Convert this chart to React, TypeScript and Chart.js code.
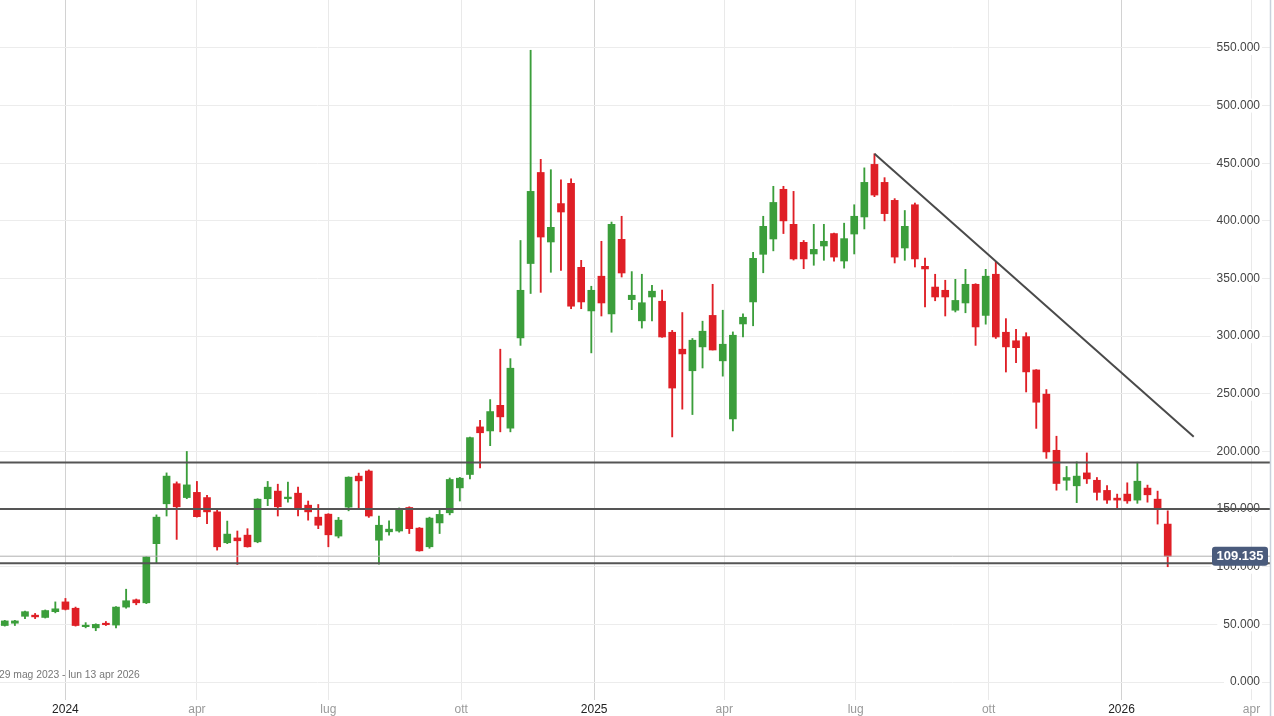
import { useEffect, useRef } from "react";
import { Chart, registerables } from "chart.js";

Chart.register(...registerables);

// Weekly candles; week index relative to Monday 1 Jan 2024 (week 0)
const FIRST_WEEK = -6;

const OPEN = [
  49, 51, 57, 58, 56, 61, 69.5, 64, 48, 47, 51, 49.4, 65, 71.3, 68.7, 120, 154.6, 172, 160, 164.5,
  160, 147.6, 120.8, 125, 127.4, 121.6, 159, 165.6, 159, 163.8, 153.4, 143, 145.6, 126.6, 151.7, 178.6, 183, 123, 130.3, 131,
  151.4, 133.5, 117.3, 138, 146.8, 168.4, 180, 221.3, 217.8, 240, 220.2, 298.5, 363, 442, 381.7, 415, 432.6, 359.7, 321.9, 352,
  319.2, 384, 331.7, 313.3, 334, 330.3, 303.4, 288.7, 270, 290.7, 318, 278.6, 228.2, 310.6, 329.7, 371, 384.3, 427.4, 397, 381.4,
  371.3, 378.2, 389, 365.2, 388.6, 403.4, 449, 433.4, 417.8, 376.5, 414, 360.6, 342.6, 339.8, 322.5, 328.8, 345, 318, 353.7, 303.4,
  296, 299.6, 270.7, 249.7, 201, 175, 170.2, 181.4, 175, 166.2, 159.5, 163, 157.8, 168.2, 158.6, 137,
];
const HIGH = [
  53.5, 53.5, 61.5, 59.5, 62.5, 69.5, 72.5, 65, 51.5, 50.5, 52.5, 65.5, 80.5, 72, 109, 145, 181.4, 173.6, 200, 174,
  162, 149.7, 139.6, 131, 133, 159, 174, 171.6, 173.4, 169, 157, 154, 146, 142.8, 178, 181.2, 184, 144, 139.8, 151,
  152, 134, 143, 149, 177, 177.5, 212.5, 227, 245, 288.7, 280.5, 383, 548, 453.4, 444.4, 435.7, 436.5, 365.8, 343.3, 382.3,
  399, 404, 356, 353.7, 344, 340, 305, 320.5, 298, 313, 345, 322.5, 303.7, 319.3, 372.7, 404, 430, 430, 425.6, 383,
  397, 397, 389.5, 398, 414, 446, 458.2, 437.5, 419.3, 409, 415.5, 367.8, 353.7, 348.5, 349.3, 358, 345.5, 358, 364.3, 315.2,
  306, 303, 271, 253.7, 213.2, 187, 191, 198.7, 177.4, 170.5, 163, 172.8, 190.7, 170.8, 165.6, 148.5,
];
const LOW = [
  48.5, 49, 55, 55, 55.5, 60, 62.5, 48.5, 47, 44.5, 49, 47, 64, 67, 68, 103, 144, 123.7, 159, 143,
  137.4, 114.4, 120, 102, 117, 120.8, 153, 144, 156, 144, 140.4, 133, 117.3, 125, 148.5, 150.6, 142.8, 102.3, 127.4, 130,
  128.8, 113.5, 116, 128.8, 145, 157, 176.2, 185.8, 205, 217, 217, 292, 337, 338, 355.4, 357, 323.8, 323.8, 285.5, 317.5,
  303.4, 351.3, 323, 307, 313.3, 299, 212.6, 236.7, 232, 272.4, 288, 265.3, 217.8, 299.3, 309, 355, 374, 389, 366, 358.5,
  361.5, 365.8, 365, 359, 371.3, 393, 421, 400, 363.5, 365.8, 360, 325.3, 330.7, 317.5, 321, 320.3, 292, 310.4, 298, 268.9,
  277, 251.6, 220, 194, 166.4, 166.4, 155.6, 172.2, 157.8, 155, 149.7, 155, 155, 156, 137, 100,
];
const CLOSE = [
  53, 53, 61, 56.5, 62, 63.5, 63, 49, 49, 50, 49.7, 65, 70.5, 68.7, 108.6, 143, 178.6, 152, 171, 143.4,
  147.6, 117.3, 128.3, 122.5, 117.3, 158.6, 169, 152, 160.4, 149.7, 147.6, 136, 127.7, 140.4, 177.7, 174.5, 144, 136, 132.6, 150,
  133, 113.8, 142.2, 145.4, 175.7, 176.8, 212, 216.2, 234.6, 230, 272.2, 339.8, 425.6, 386, 394.4, 407.7, 326, 329.7, 339.8, 328.8,
  397, 354.8, 335.5, 329, 339, 299.3, 255, 284.6, 296.5, 304.3, 288, 293, 300.8, 316.4, 367.5, 395.3, 416, 400, 367, 367,
  375.3, 382.3, 368.6, 384.6, 404, 433.4, 422.4, 406.3, 368.6, 395.3, 367, 358.3, 334, 334, 331, 345, 308, 352, 299.3, 290.7,
  290, 269, 242.7, 199.6, 172.2, 177.4, 178.6, 176.2, 164.5, 157.8, 157.8, 157.1, 174.2, 162.4, 149.7, 109.135,
];

// x axis: days since 1 Jan 2024
const X_TICK_DAYS = [0, 91, 182, 274, 366, 456, 547, 639, 731, 821];
const X_TICK_LABELS = ["2024", "apr", "lug", "ott", "2025", "apr", "lug", "ott", "2026", "apr"];
const YEAR_TICKS = ["2024", "2025", "2026"];
const Y_TICKS = [0, 50, 100, 150, 200, 250, 300, 350, 400, 450, 500, 550];

const LEVELS = [190.5, 150, 103];
const LAST_PRICE = 109.135;
const TREND_DAYS = [560, 781];
const TREND_VALUES = [458.2, 212.8];
const RANGE_TEXT = "29 mag 2023 - lun 13 apr 2026";

const X_MIN = -45.3;
const X_MAX = 833.8;
const Y_MIN = -15.6;
const Y_MAX = 591.6;

const GREEN = "#3b9e3b";
const RED = "#df1f26";
const FONT = "'Liberation Sans', Arial, sans-serif";

export default function App() {
  const ref = useRef<HTMLCanvasElement>(null);

  useEffect(() => {
    const xs = OPEN.map((_, i) => (FIRST_WEEK + i) * 7);
    const colors = OPEN.map((o, i) => (CLOSE[i] >= o ? GREEN : RED));

    const axisLabels = {
      id: "axisLabels",
      beforeDatasetsDraw(chart: any) {
        const { ctx, chartArea, scales } = chart;
        ctx.save();
        ctx.font = `12px ${FONT}`;
        ctx.textBaseline = "middle";
        ctx.textAlign = "right";
        const xr = chartArea.right - 10;
        for (const v of Y_TICKS) {
          const y = scales.y.getPixelForValue(v);
          const txt = v.toFixed(3);
          const w = ctx.measureText(txt).width;
          ctx.fillStyle = "#ffffff";
          ctx.fillRect(xr - w - 6, y - 7, w + 8, 14);
          ctx.fillStyle = "#444444";
          ctx.fillText(txt, xr, y);
        }
        ctx.textAlign = "center";
        X_TICK_DAYS.forEach((d, i) => {
          const lab = X_TICK_LABELS[i];
          ctx.fillStyle = YEAR_TICKS.includes(lab) ? "#222222" : "#9a9a9a";
          ctx.fillText(lab, scales.x.getPixelForValue(d), chartArea.bottom + 9.5);
        });
        ctx.restore();
      },
    };

    const decor = {
      id: "decor",
      afterDraw(chart: any) {
        const { ctx, chartArea, scales } = chart;
        ctx.save();
        ctx.strokeStyle = "#c9d1dc";
        ctx.lineWidth = 1.5;
        ctx.beginPath();
        ctx.moveTo(chartArea.right + 0.5, 0);
        ctx.lineTo(chartArea.right + 0.5, chart.height);
        ctx.stroke();
        ctx.fillStyle = "#777";
        ctx.font = `10.3px ${FONT}`;
        ctx.textAlign = "left";
        ctx.textBaseline = "middle";
        ctx.fillText(RANGE_TEXT, -1, 675.5);
        const py = scales.y.getPixelForValue(LAST_PRICE);
        const w = 56, h = 19;
        const bx = chartArea.right - w - 2, by = py - h / 2;
        ctx.fillStyle = "#4a5b7c";
        ctx.beginPath();
        (ctx as any).roundRect(bx, by, w, h, 3);
        ctx.fill();
        ctx.fillStyle = "#ffffff";
        ctx.font = `bold 13px ${FONT}`;
        ctx.textAlign = "center";
        ctx.fillText(LAST_PRICE.toFixed(3), bx + w / 2, py + 0.5);
        ctx.restore();
      },
    };

    const lineDs = (data: any[], color: string, width: number) => ({
      type: "line" as const,
      data,
      borderColor: color,
      borderWidth: width,
      pointRadius: 0,
      fill: false,
      tension: 0,
    });

    const chart = new Chart(ref.current!, {
      type: "bar",
      data: {
        datasets: [
          ...LEVELS.map((v) => lineDs([{ x: X_MIN, y: v }, { x: X_MAX, y: v }], "#555555", 2)),
          lineDs([{ x: X_MIN, y: LAST_PRICE }, { x: X_MAX, y: LAST_PRICE }], "#b0b0b0", 1),
          lineDs(TREND_DAYS.map((d, i) => ({ x: d, y: TREND_VALUES[i] })), "#4a4a4a", 2),
          {
            type: "bar",
            data: xs.map((x, i) => ({ x, y: [OPEN[i], CLOSE[i]] })),
            backgroundColor: colors,
            borderWidth: 0,
            barThickness: 7,
            grouped: false,
            minBarLength: 1.5,
          } as any,
          {
            type: "bar",
            data: xs.map((x, i) => ({ x, y: [LOW[i], HIGH[i]] })),
            backgroundColor: colors,
            borderWidth: 0,
            barThickness: 1.2,
            grouped: false,
          } as any,
        ],
      },
      options: {
        animation: false,
        responsive: false,
        devicePixelRatio: 1,
        layout: { padding: { left: 0, right: 4, top: 0, bottom: 16 } },
        plugins: { legend: { display: false }, tooltip: { enabled: false } },
        scales: {
          x: {
            type: "linear",
            min: X_MIN,
            max: X_MAX,
            offset: false,
            bounds: "data",
            afterBuildTicks: (axis: any) => {
              axis.ticks = X_TICK_DAYS.map((value) => ({ value }));
            },
            grid: {
              offset: false,
              drawTicks: false,
              color: (c: any) =>
                YEAR_TICKS.includes(X_TICK_LABELS[c.index]) ? "#d2d2d2" : "#e9e9e9",
              lineWidth: 1,
            },
            border: { display: false },
            ticks: { display: false },
          },
          y: {
            type: "linear",
            position: "right",
            min: Y_MIN,
            max: Y_MAX,
            bounds: "data",
            afterBuildTicks: (axis: any) => {
              axis.ticks = Y_TICKS.map((value) => ({ value }));
            },
            grid: { drawTicks: false, color: "#ececec", lineWidth: 1 },
            border: { display: false },
            ticks: { display: false },
          },
        },
      } as any,
      plugins: [axisLabels, decor],
    });
    return () => chart.destroy();
  }, []);

  return (
    <div style={{ position: "fixed", left: 0, top: 0, width: 1274, height: 716, background: "#fff" }}>
      <canvas ref={ref} width={1274} height={716} style={{ display: "block" }} />
    </div>
  );
}
